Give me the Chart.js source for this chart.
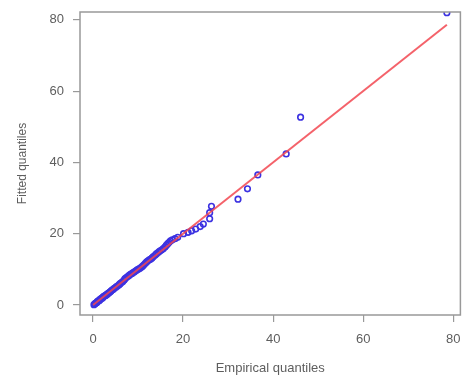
<!DOCTYPE html>
<html>
<head>
<meta charset="utf-8">
<script src="https://cdn.jsdelivr.net/npm/chart.js@4/dist/chart.umd.min.js"></script>
<style>
  html, body { margin: 0; padding: 0; background: #fff; overflow: hidden; }
  canvas { display: block; }
</style>
</head>
<body>
<!-- a little wider than the window: Chart.js keeps ~5px at the right edge, the reference box goes to x=461 -->
<canvas id="qq" width="466" height="379"></canvas>
<script>
// Empirical vs fitted quantiles
const empirical = [0.2, 0.4, 0.5, 0.7, 0.9, 1.0, 1.2, 1.4, 1.5, 1.7, 1.9, 2.1, 2.2, 2.4, 2.6, 2.8, 3.0, 3.2, 3.4, 3.6,
  3.8, 4.0, 4.2, 4.5, 4.7, 5.0, 5.2, 5.5, 5.8, 6.0, 6.3, 6.6, 6.9, 7.1, 7.4, 7.7, 8.0, 8.3, 8.6, 8.9,
  9.2, 9.5, 9.8, 10.1, 10.4, 10.7, 11.0, 11.3, 11.6, 11.9, 12.2, 12.5, 12.8, 13.1, 13.4, 13.8, 14.1, 14.5, 14.8, 15.2,
  15.6, 16.0, 16.3, 16.6, 16.9, 17.2, 17.6, 18.2, 18.8, 20.1, 21.1, 21.9, 22.8, 23.8, 24.5, 25.9, 25.9, 26.3,
  32.2, 34.3, 36.6, 42.9, 46.1, 78.6];
const fitted = [0.1, 0.3, 0.5, 0.6, 0.8, 1.0, 1.2, 1.3, 1.5, 1.7, 1.9, 2.0, 2.2, 2.4, 2.6, 2.7, 2.9, 3.1, 3.3, 3.5,
  3.7, 3.9, 4.2, 4.4, 4.7, 4.9, 5.2, 5.4, 5.7, 6.0, 6.3, 6.6, 7.0, 7.4, 7.7, 8.0, 8.3, 8.6, 8.8, 9.1,
  9.3, 9.6, 9.9, 10.1, 10.3, 10.6, 10.9, 11.3, 11.7, 12.1, 12.4, 12.7, 12.9, 13.2, 13.6, 14.0, 14.4, 14.8, 15.1, 15.4,
  15.8, 16.3, 16.8, 17.2, 17.6, 18.0, 18.3, 18.6, 19.0, 20.0, 20.4, 20.8, 21.3, 22.0, 22.7, 24.2, 25.9, 27.7,
  29.7, 32.6, 36.5, 42.4, 52.7, 82.0];

// reference line y = x
const lineX = [0, 78.6];
const lineY = [0, 78.6];

const xTicks = [0, 20, 40, 60, 80];
const yTicks = [0, 20, 40, 60, 80];

const points = empirical.map((x, i) => ({ x: x, y: fitted[i] }));
const linePts = lineX.map((x, i) => ({ x: x, y: lineY[i] }));

const grey = '#999999';
const textGrey = '#5e5e5e';

const noPad = s => { s.paddingLeft = 0; s.paddingRight = 0; s.paddingTop = 0; s.paddingBottom = 0; };

// box around the plot region, R style
const boxPlugin = {
    id: 'box',
    afterDatasetsDraw(chart) {
        const { ctx, chartArea: a } = chart;
        ctx.save();
        ctx.strokeStyle = grey;
        ctx.lineWidth = 1.5;
        ctx.strokeRect(a.left, a.top, a.right - a.left, a.bottom - a.top);
        ctx.restore();
    }
};

new Chart(document.getElementById('qq').getContext('2d'), {
    type: 'scatter',
    data: {
        datasets: [
            {
                type: 'line',
                data: linePts,
                borderColor: 'rgba(242,70,80,0.85)',
                borderWidth: 2,
                pointRadius: 0,
                fill: false,
                order: 0
            },
            {
                data: points,
                pointStyle: 'circle',
                pointRadius: 2.8,
                pointBorderWidth: 1.6,
                borderColor: 'rgb(60,50,225)',
                backgroundColor: 'rgba(0,0,0,0)',
                order: 1
            }
        ]
    },
    options: {
        responsive: false,
        animation: false,
        layout: { padding: { top: 12, right: 1, left: 0, bottom: 0 } },
        plugins: {
            legend: { display: false },
            tooltip: { enabled: false }
        },
        scales: {
            x: {
                type: 'linear',
                min: -2.9,
                max: 81.6,
                afterBuildTicks: s => { s.ticks = xTicks.map(v => ({ value: v })); },
                afterFit: s => { s.height = 64; noPad(s); },
                grid: { drawOnChartArea: false, drawTicks: true, tickLength: 7, color: grey, lineWidth: 1.2 },
                border: { display: false },
                ticks: { color: textGrey, font: { family: 'Liberation Sans', size: 13 }, padding: 10, maxRotation: 0 },
                title: {
                    display: true,
                    text: 'Empirical quantiles',
                    color: textGrey,
                    font: { family: 'Liberation Sans', size: 13 },
                    padding: { top: 0, bottom: 3 }
                }
            },
            y: {
                type: 'linear',
                min: -2.8,
                max: 82.2,
                afterBuildTicks: s => { s.ticks = yTicks.map(v => ({ value: v })); },
                afterFit: s => { s.width = 80; noPad(s); },
                grid: { drawOnChartArea: false, drawTicks: true, tickLength: 7, color: grey, lineWidth: 1.2 },
                border: { display: false },
                ticks: { color: textGrey, font: { family: 'Liberation Sans', size: 13 }, padding: 9 },
                title: {
                    display: true,
                    text: 'Fitted quantiles',
                    color: textGrey,
                    font: { family: 'Liberation Sans', size: 12 },
                    padding: { top: 15, bottom: 0 }
                }
            }
        }
    },
    plugins: [boxPlugin]
});
</script>
</body>
</html>
